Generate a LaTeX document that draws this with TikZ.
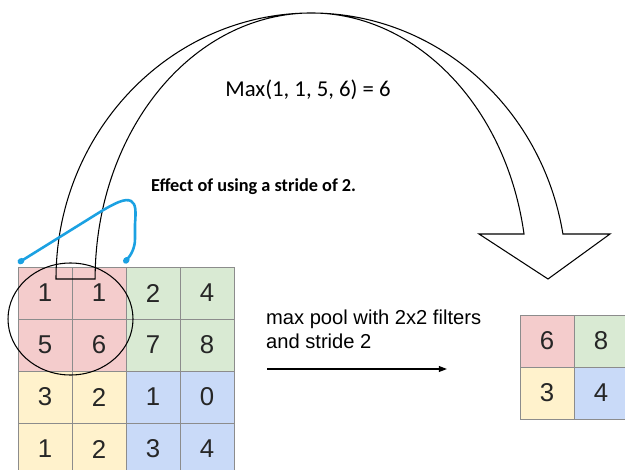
\documentclass[tikz,border=0pt]{standalone}
\usepackage{fontspec}
\setmainfont{Liberation Sans}
\newfontfamily\calibri{Carlito}
\usetikzlibrary{arrows.meta}
\definecolor{poolred}{RGB}{244,204,204}
\definecolor{poolgreen}{RGB}{217,234,211}
\definecolor{poolyellow}{RGB}{255,242,204}
\definecolor{poolblue}{RGB}{201,218,248}
\definecolor{strideblue}{RGB}{27,161,226}
\tikzset{
  cell/.style={draw=gray!90,line width=0.8pt,minimum width=1.62cm,minimum height=1.56cm,
    inner sep=0pt,text=black!85,font=\fontsize{22}{24}\selectfont},
  bigarrow/.style={draw=black,line width=0.9pt},
  stridecurve/.style={strideblue,line width=2.2pt,{Circle[length=6pt,width=5pt]}-{Circle[length=6pt,width=5pt]}}
}

\begin{document}
\begin{tikzpicture}[x=0.03cm,y=0.03cm]
\useasboundingbox (0,0) rectangle (625,469);

% input 4x4
\foreach \r/\c/\v/\col in {1/1/1/poolred,1/2/1/poolred,1/3/2/poolgreen,1/4/4/poolgreen,
  2/1/5/poolred,2/2/6/poolred,2/3/7/poolgreen,2/4/8/poolgreen,
  3/1/3/poolyellow,3/2/2/poolyellow,3/3/1/poolblue,3/4/0/poolblue,
  4/1/1/poolyellow,4/2/2/poolyellow,4/3/3/poolblue,4/4/4/poolblue}
  \node[cell,fill=\col] (c\r\c) at ({45+54*(\c-1)},{176-52*(\r-1)}) {\v};

% output 2x2
\foreach \r/\c/\v/\col in {1/1/6/poolred,1/2/8/poolgreen,2/1/3/poolyellow,2/2/4/poolblue}
  \node[cell,fill=\col] (o\r\c) at ({547+54*(\c-1)},{128-52*(\r-1)}) {\v};

% window
\draw[line width=0.9pt] (70.5,150) ellipse [x radius=62.5,y radius=56];

% curved arrow
\draw[bigarrow] (56,190) arc[start angle=180,end angle=9.74,x radius=255.3,y radius=266]
  -- (610,235) -- (548,190) -- (479,235) -- (524,235)
  arc[start angle=9.74,end angle=180,x radius=216,y radius=266] -- cycle;
\node[font=\calibri\fontsize{19.4}{22}\selectfont] (maxtxt) at (308,379) {Max(1, 1, 5, 6) = 6};

% stride
\coordinate (strideL) at (18,206);
\coordinate (strideR) at (124,206);
\draw[stridecurve] (strideL) -- (100,257) .. controls (115,266) and (125,271) .. (131,268)
  .. controls (136,265) and (136,258) .. (135,245) -- (135,230)
  .. controls (135,220) and (130,213) .. (strideR);
\node[anchor=west,font=\calibri\bfseries\fontsize{15.6}{18}\selectfont] (effect) at (147,282)
  {Effect of using a stride of 2.};

% pooling
\node[anchor=base west,font=\fontsize{17.2}{20}\selectfont] (pool1) at (262,145) {max pool with 2x2 filters};
\node[anchor=base west,font=\fontsize{17.2}{20}\selectfont] (pool2) at (262,121) {and stride 2};
\coordinate (poolstart) at (267,100);
\coordinate (poolend) at (447,100);
\draw[line width=1.1pt,-{Triangle[length=7pt,width=5pt]}] (poolstart) -- (poolend);

\end{tikzpicture}
\end{document}
